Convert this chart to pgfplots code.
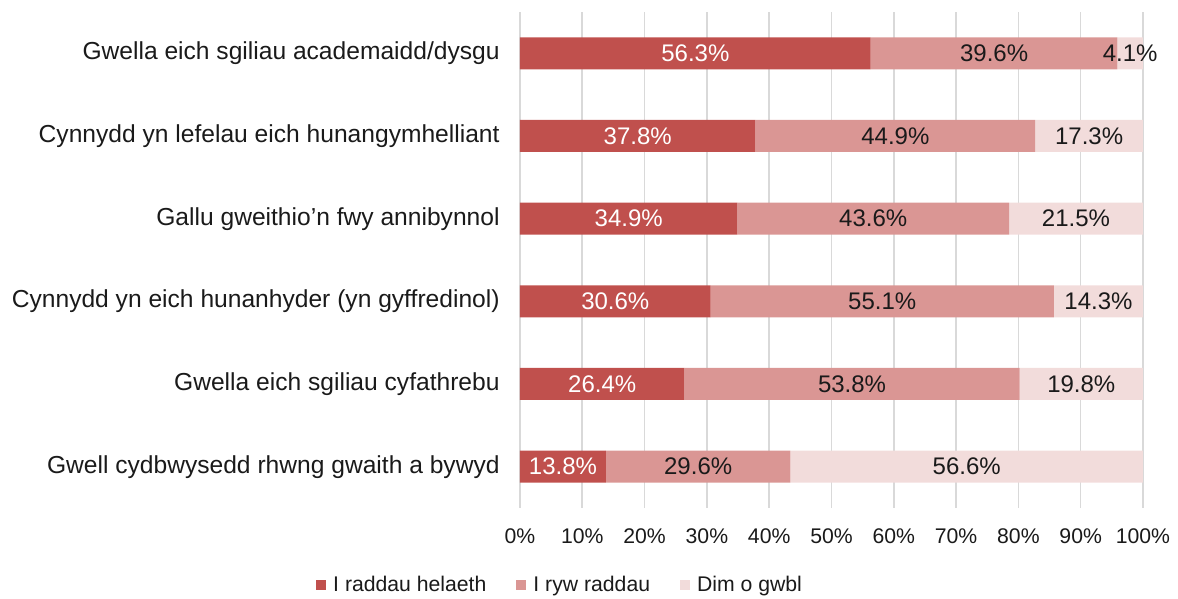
\documentclass[border=0pt]{standalone}
\usepackage{fontspec}
\setmainfont{Liberation Sans}
\usepackage{pgfplots}
\pgfplotsset{compat=1.18}
\definecolor{cA}{HTML}{C0504D}
\definecolor{cB}{HTML}{DA9694}
\definecolor{cC}{HTML}{F2DCDB}
\definecolor{gridc}{HTML}{D9D9D9}
\definecolor{txt}{HTML}{1A1A1A}
\pgfplotsset{sqleg/.style={legend image code/.code={\fill[##1,draw=none] (0pt,-2.5pt) rectangle (5pt,2.5pt);}}}
\begin{document}
\begin{tikzpicture}
\begin{axis}[name=ax,
  scale only axis, width=311.5pt, height=248pt,
  xbar stacked, bar width=16pt,
  xmin=0, xmax=100, ymin=-0.5, ymax=5.5,
  axis line style={draw=none},
  major tick length=0pt,
  xmajorgrids, grid style={gridc, line width=0.8pt},
  xtick={0,10,...,100},
  xticklabel={\pgfmathprintnumber{\tick}\%},
  /pgf/number format/assume math mode=true,
  xticklabel style={font=\fontsize{10.6}{12}\selectfont, text=txt, inner sep=0pt, yshift=-10pt},
  ytick={0,...,5},
  yticklabels={Gwell cydbwysedd rhwng gwaith a bywyd, Gwella eich sgiliau cyfathrebu, Cynnydd yn eich hunanhyder (yn gyffredinol), Gallu gweithio’n fwy annibynnol, Cynnydd yn lefelau eich hunangymhelliant, Gwella eich sgiliau academaidd/dysgu},
  yticklabel style={font=\fontsize{12.3}{14}\selectfont, text=txt, inner sep=0pt, xshift=-10pt},
  visualization depends on=rawx \as \rawx,
  nodes near coords={\pgfmathprintnumber[fixed,fixed zerofill,precision=1]{\rawx}\%},
  every node near coord/.append style={anchor=center, font=\fontsize{12}{14}\selectfont},
  legend columns=3,
  legend style={draw=none, at={(axis description cs:0.066,0)}, anchor=center, yshift=-38.5pt,
    font=\fontsize{10.6}{12}\selectfont, text=txt,
    /tikz/every odd column/.append style={column sep=1.5pt},
    /tikz/every even column/.append style={column sep=13pt}},
]
\addplot[fill=cA, draw=none, sqleg, every node near coord/.append style={text=white}] coordinates {(13.8,0) (26.4,1) (30.6,2) (34.9,3) (37.8,4) (56.3,5)};
\addplot[fill=cB, draw=none, sqleg, every node near coord/.append style={text=txt}] coordinates {(29.6,0) (53.8,1) (55.1,2) (43.6,3) (44.9,4) (39.6,5)};
\addplot[fill=cC, draw=none, sqleg, every node near coord/.append style={text=txt}] coordinates {(56.6,0) (19.8,1) (14.3,2) (21.5,3) (17.3,4) (4.1,5)};
\legend{I raddau helaeth, I ryw raddau, Dim o gwbl}
\end{axis}
\pgfresetboundingbox
\path (ax.south west) ++(-260pt,-45.5pt) rectangle ++(589pt,299.5pt);
\end{tikzpicture}
\end{document}
